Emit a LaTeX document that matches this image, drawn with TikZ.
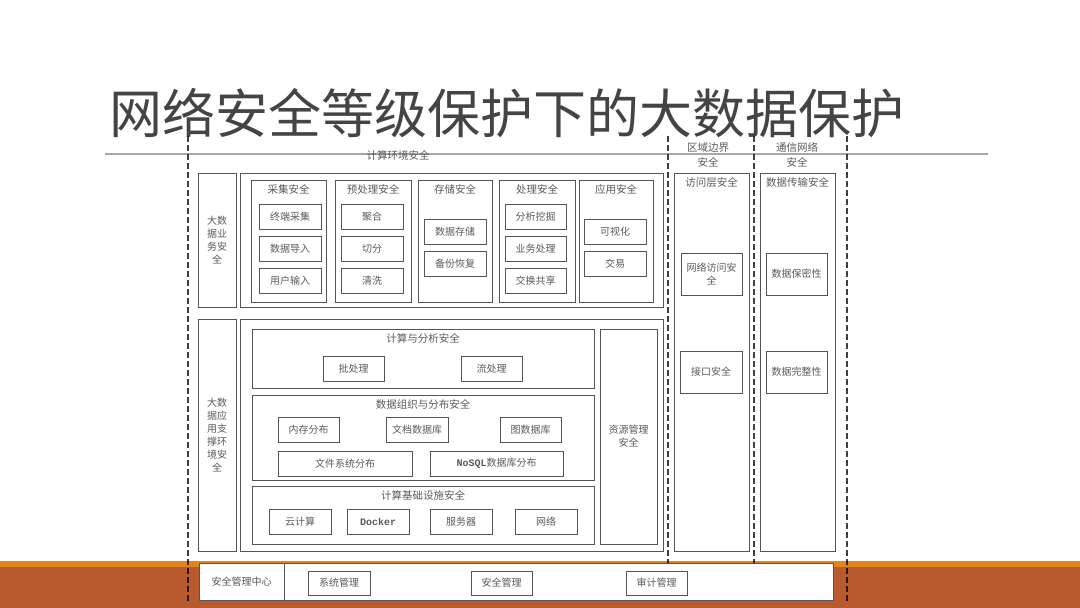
\documentclass[tikz,border=0pt]{standalone}
\usepackage{fontspec}
\setmainfont{Noto Sans CJK SC}
\newfontfamily\monofnt{Liberation Mono}
\definecolor{boxc}{HTML}{555555}
\definecolor{txtc}{HTML}{5A5A5A}
\definecolor{titc}{HTML}{444444}
\definecolor{rust}{HTML}{B95A2E}
\definecolor{orng}{HTML}{E2841C}
\definecolor{hline}{HTML}{A8A8A8}
\tikzset{
  bx/.style={draw=boxc, line width=0.9pt, inner sep=0pt, outer sep=0pt, align=center,
    text=txtc, font=\fontsize{10}{13}\selectfont},
  ttl/.style={inner sep=0pt, text=txtc, align=center, font=\fontsize{10.5}{15}\selectfont},
  dsh/.style={draw=black, opacity=0.75, line width=1.1pt, dash pattern=on 5.5pt off 3.5pt}
}
\newcommand\bx[7][]{\node[bx,#1,minimum width={#5-#3},minimum height={#6-#4}] (#2) at ({(#3+#5)/2},{(#4+#6)/2}) {#7};}
\begin{document}
\begin{tikzpicture}[x=1pt,y=-1pt]
\useasboundingbox (0,0) rectangle (1080,608);
% bottom band
\fill[rust] (0,566) rectangle (1080,608);
\fill[orng] (0,561) rectangle (1080,567);
% title
\node[anchor=west, inner sep=0pt, text=titc, font=\fontsize{53}{60}\selectfont] (title) at (109,113.5) {网络安全等级保护下的大数据保护};
% horizontal rule
\coordinate (hl1) at (105,154);
\coordinate (hl2) at (988,154);
\draw[hline, line width=1.3pt] (hl1) -- (hl2);
% dashed separators
\foreach \x/\n in {188/a,668/b,754/c,847/d}{
  \coordinate (dt\n) at (\x,136);
  \coordinate (db\n) at (\x,602);
  \draw[dsh] (dt\n) -- (db\n);
}
% headers
\node[ttl] (hcomp) at (398,155) {计算环境安全};
\node[ttl] (hbord) at (708,155) {区域边界\\安全};
\node[ttl] (hcomm) at (797,155) {通信网络\\安全};
% business row
\bx{lb1}{198}{173}{236}{307}{大数\\据业\\务安\\全}
\bx{bo1}{240}{173}{663}{307}{}
\bx{c1}{251}{180}{326}{302}{}
\node[ttl] (t1) at (288.5,189) {采集安全};
\bx{c1a}{259}{204}{321}{229}{终端采集}
\bx{c1b}{259}{236}{321}{261}{数据导入}
\bx{c1c}{259}{268}{321}{293}{用户输入}
\bx{c2}{335}{180}{411}{302}{}
\node[ttl] (t2) at (373,189) {预处理安全};
\bx{c2a}{341}{204}{403}{229}{聚合}
\bx{c2b}{341}{236}{403}{261}{切分}
\bx{c2c}{341}{268}{403}{293}{清洗}
\bx{c3}{418}{180}{492}{302}{}
\node[ttl] (t3) at (455,189) {存储安全};
\bx{c3a}{424}{219}{486}{244}{数据存储}
\bx{c3b}{424}{251}{486}{276}{备份恢复}
\bx{c4}{499}{180}{575}{302}{}
\node[ttl] (t4) at (537,189) {处理安全};
\bx{c4a}{505}{204}{566}{229}{分析挖掘}
\bx{c4b}{505}{236}{566}{261}{业务处理}
\bx{c4c}{505}{268}{566}{293}{交换共享}
\bx{c5}{579}{180}{653}{302}{}
\node[ttl] (t5) at (616,189) {应用安全};
\bx{c5a}{584}{219}{646}{244}{可视化}
\bx{c5b}{584}{251}{646}{276}{交易}
% application support row
\bx{lb2}{198}{319}{236}{551}{大数\\据应\\用支\\撑环\\境安\\全}
\bx{bo2}{240}{319}{663}{551}{}
\bx{s1}{252}{329}{594}{388}{}
\node[ttl] (ts1) at (423,338) {计算与分析安全};
\bx{s1a}{323}{356}{384}{381}{批处理}
\bx{s1b}{461}{356}{522}{381}{流处理}
\bx{s2}{252}{395}{594}{480}{}
\node[ttl] (ts2) at (423,404) {数据组织与分布安全};
\bx{s2a}{278}{417}{339}{442}{内存分布}
\bx{s2b}{386}{417}{448}{442}{文档数据库}
\bx{s2c}{500}{417}{561}{442}{图数据库}
\bx{s2d}{278}{451}{412}{476}{文件系统分布}
\bx{s2e}{430}{451}{563}{476}{{\monofnt\bfseries NoSQL}数据库分布}
\bx{s3}{252}{486}{594}{544}{}
\node[ttl] (ts3) at (423,495) {计算基础设施安全};
\bx{s3a}{269}{509}{331}{534}{云计算}
\bx{s3b}{347}{509}{409}{534}{{\monofnt\bfseries Docker}}
\bx{s3c}{430}{509}{492}{534}{服务器}
\bx{s3d}{515}{509}{577}{534}{网络}
\bx{rm}{600}{329}{657}{544}{资源管理\\安全}
% boundary column
\bx{ac}{674}{173}{749}{551}{}
\node[ttl] (tac) at (711.5,182) {访问层安全};
\bx{aca}{681}{253}{742}{295}{网络访问安\\全}
\bx{acb}{680}{351}{742}{393}{接口安全}
% communication column
\bx{dt}{760}{173}{835}{551}{}
\node[ttl] (tdt) at (797.5,182) {数据传输安全};
\bx{dta}{766}{253}{827}{295}{数据保密性}
\bx{dtb}{766}{351}{827}{393}{数据完整性}
% security management centre
\bx[fill=white]{bot}{199}{563}{833}{600}{}
\bx{smc}{199}{563}{284}{600}{安全管理中心}
\bx{m1}{308}{571}{370}{595}{系统管理}
\bx{m2}{471}{571}{532}{595}{安全管理}
\bx{m3}{626}{571}{687}{595}{审计管理}
\end{tikzpicture}
\end{document}
